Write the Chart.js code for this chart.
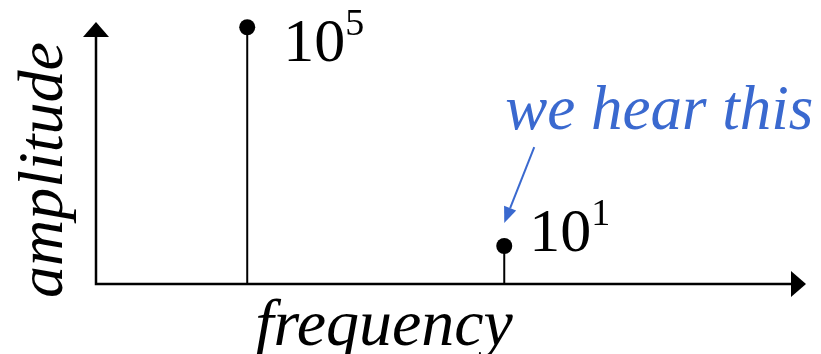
<!DOCTYPE html>
<html>
<head>
<meta charset="utf-8">
<script src="https://cdn.jsdelivr.net/npm/chart.js@4"></script>
<style>
  html, body { margin: 0; padding: 0; background: #ffffff; }
  #wrap { width: 821px; height: 354px; }
</style>
</head>
<body>
<div id="wrap"><canvas id="c" width="821" height="354"></canvas></div>
<script>
// ---- data ----
const frequencies = [21.3, 57.5];
const amplitudes = [98, 14.5];
const peakBases = ['10', '10'];
const peakExponents = ['5', '1'];
const xTitle = 'frequency';
const yTitle = 'amplitude';
const noteText = 'we hear this';
const notePeakIndex = 1;

const SERIF = '"Liberation Serif"';
const BLUE = '#3a69cf';

const stemPlugin = {
  id: 'stems',
  beforeDatasetsDraw(chart) {
    const ctx = chart.ctx;
    const a = chart.chartArea;
    const xs = chart.scales.x, ys = chart.scales.y;
    const y0 = ys.getPixelForValue(0);
    ctx.save();
    ctx.strokeStyle = '#000';
    ctx.fillStyle = '#000';
    ctx.lineWidth = 2.5;
    const ah = 15, aw = 13;
    ctx.beginPath();
    ctx.moveTo(a.left, y0);
    ctx.lineTo(a.right - ah + 1, y0);
    ctx.moveTo(a.left, y0 + 1.2);
    ctx.lineTo(a.left, a.top + ah - 1);
    ctx.stroke();
    ctx.beginPath();
    ctx.moveTo(a.right, y0);
    ctx.lineTo(a.right - ah, y0 - aw);
    ctx.lineTo(a.right - ah, y0 + aw);
    ctx.closePath();
    ctx.fill();
    ctx.beginPath();
    ctx.moveTo(a.left, a.top);
    ctx.lineTo(a.left - aw, a.top + ah);
    ctx.lineTo(a.left + aw, a.top + ah);
    ctx.closePath();
    ctx.fill();
    ctx.lineWidth = 2;
    for (let i = 0; i < frequencies.length; i++) {
      const px = xs.getPixelForValue(frequencies[i]);
      const py = ys.getPixelForValue(amplitudes[i]);
      ctx.beginPath();
      ctx.moveTo(px, y0);
      ctx.lineTo(px, py);
      ctx.stroke();
    }
    ctx.restore();
  },
  afterDatasetsDraw(chart) {
    const ctx = chart.ctx;
    const a = chart.chartArea;
    const xs = chart.scales.x, ys = chart.scales.y;
    ctx.save();
    ctx.fillStyle = '#000';
    ctx.textBaseline = 'alphabetic';
    ctx.textAlign = 'left';
    const offs = [[36, 34], [25, 5]];
    for (let i = 0; i < frequencies.length; i++) {
      const px = xs.getPixelForValue(frequencies[i]);
      const py = ys.getPixelForValue(amplitudes[i]);
      const bx = px + offs[i][0], by = py + offs[i][1];
      ctx.font = '62px ' + SERIF;
      ctx.fillText(peakBases[i], bx, by);
      const w = ctx.measureText(peakBases[i]).width;
      ctx.font = '38px ' + SERIF;
      ctx.fillText(peakExponents[i], bx + w, by - 26);
    }
    ctx.font = 'italic 66px ' + SERIF;
    ctx.textAlign = 'center';
    ctx.fillText(xTitle, 384, 345);
    ctx.font = 'italic 64px ' + SERIF;
    ctx.save();
    ctx.translate(62, 170);
    ctx.rotate(-Math.PI / 2);
    ctx.fillText(yTitle, 0, 0);
    ctx.restore();
    const nx = xs.getPixelForValue(frequencies[notePeakIndex]);
    const ny = ys.getPixelForValue(amplitudes[notePeakIndex]);
    ctx.fillStyle = BLUE;
    ctx.strokeStyle = BLUE;
    ctx.font = 'italic 63px ' + SERIF;
    ctx.textAlign = 'left';
    ctx.fillText(noteText, nx + 1, ny - 117);
    const sx = nx + 30, sy = ny - 99, tx = nx, ty = ny - 23;
    const ang = Math.atan2(ty - sy, tx - sx);
    const hl = 16, hw = 6.5;
    const bxh = tx - hl * Math.cos(ang), byh = ty - hl * Math.sin(ang);
    ctx.lineWidth = 2;
    ctx.beginPath();
    ctx.moveTo(sx, sy);
    ctx.lineTo(bxh, byh);
    ctx.stroke();
    ctx.beginPath();
    ctx.moveTo(tx, ty);
    ctx.lineTo(bxh + hw * Math.sin(ang), byh - hw * Math.cos(ang));
    ctx.lineTo(bxh - hw * Math.sin(ang), byh + hw * Math.cos(ang));
    ctx.closePath();
    ctx.fill();
    ctx.restore();
  }
};

function build() {
  new Chart(document.getElementById('c'), {
    type: 'scatter',
    data: {
      datasets: [{
        data: frequencies.map((f, i) => ({ x: f, y: amplitudes[i] })),
        backgroundColor: '#000',
        borderColor: '#000',
        pointRadius: 8,
        pointHoverRadius: 8,
        borderWidth: 0,
        clip: false
      }]
    },
    options: {
      responsive: false,
      animation: false,
      events: [],
      layout: { padding: { left: 96, right: 15, top: 22, bottom: 70 } },
      plugins: { legend: { display: false }, tooltip: { enabled: false } },
      scales: {
        x: { type: 'linear', display: false, min: 0, max: 100 },
        y: { type: 'linear', display: false, min: 0, max: 100 }
      }
    },
    plugins: [stemPlugin]
  });
}

Promise.all([
  document.fonts.load('italic 62px "Liberation Serif"'),
  document.fonts.load('62px "Liberation Serif"')
]).then(build, build);
</script>
</body>
</html>
